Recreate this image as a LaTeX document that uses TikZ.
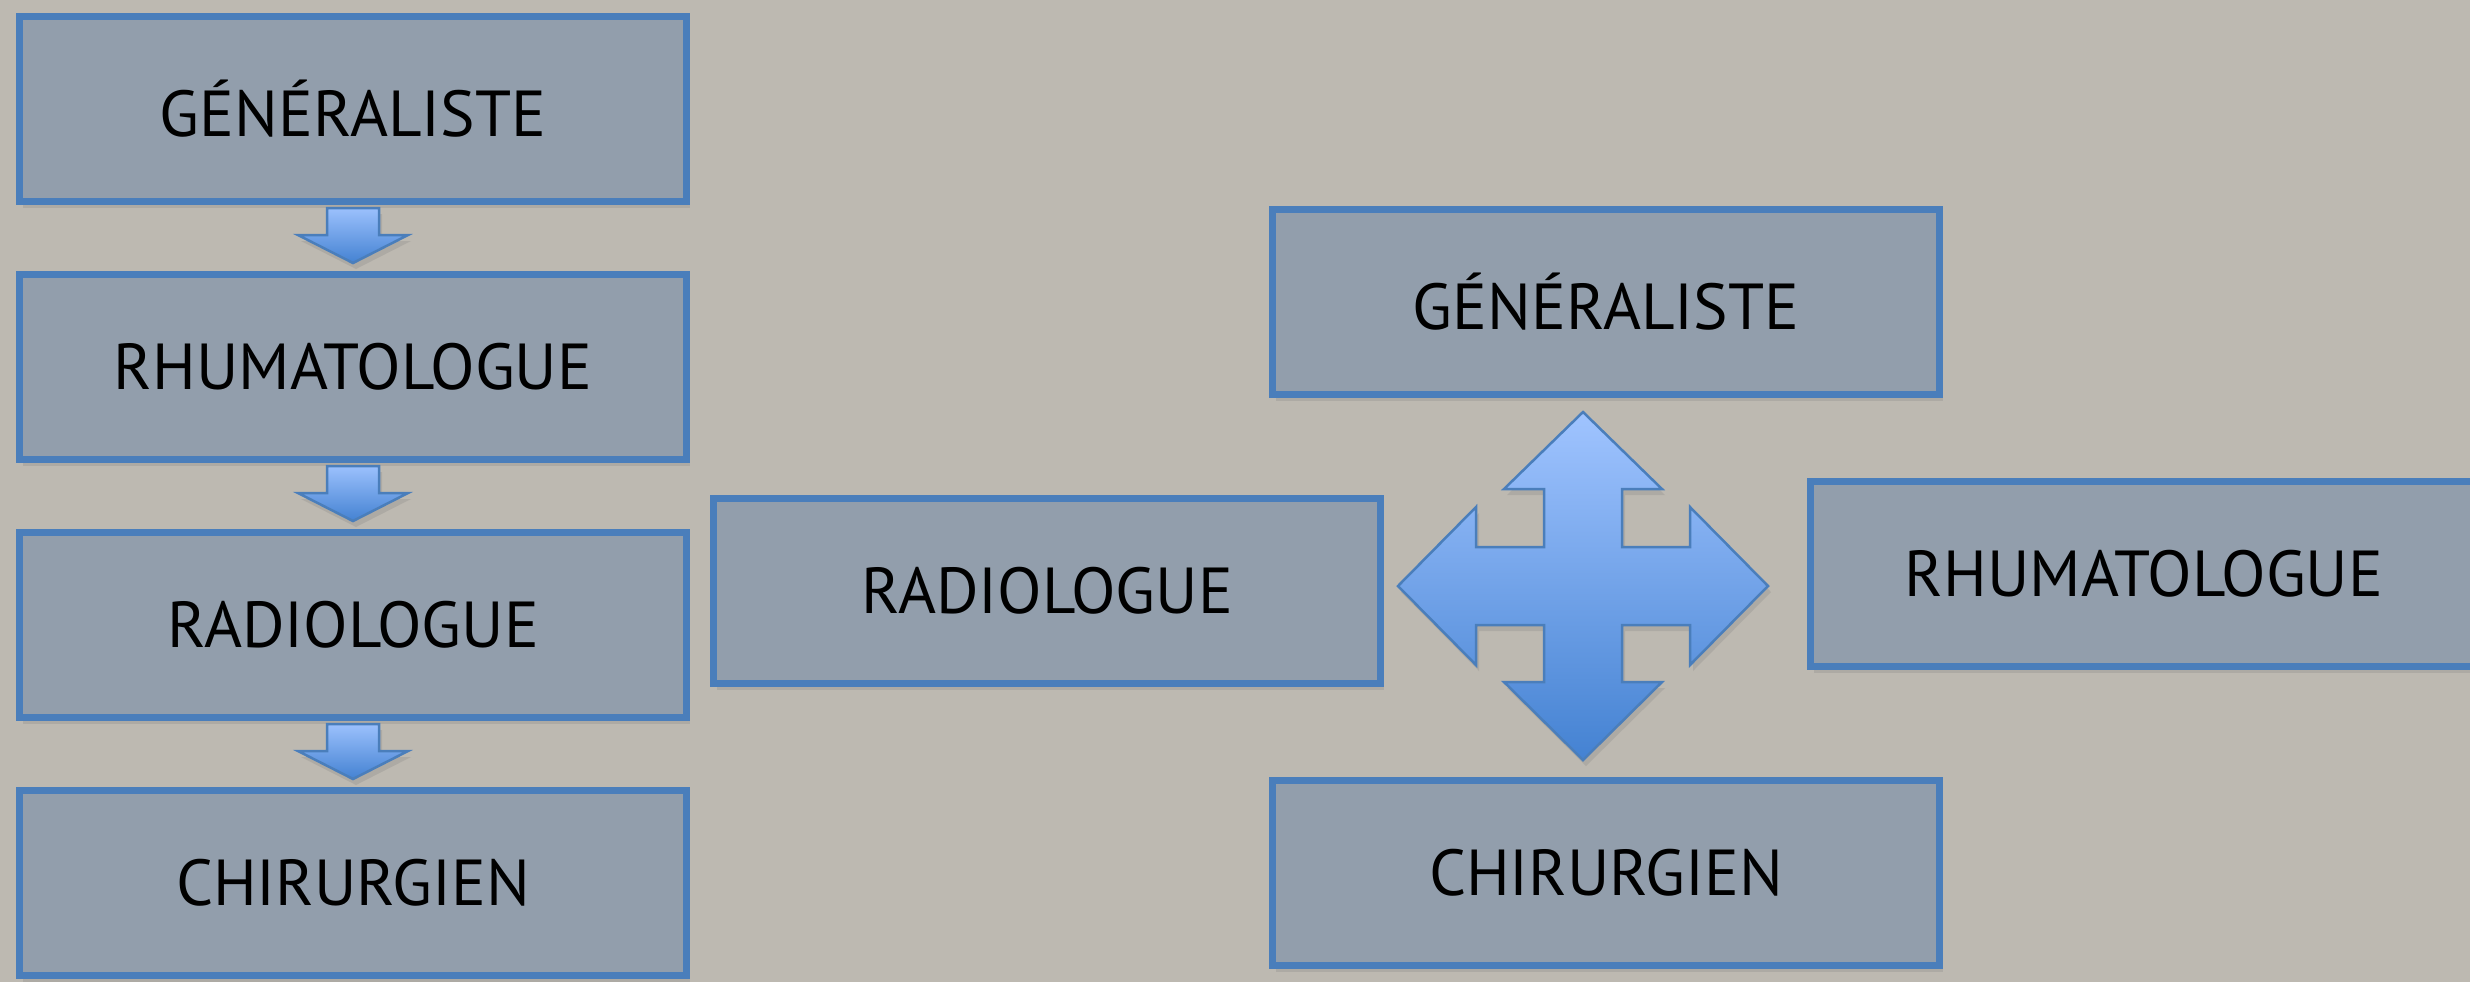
\documentclass[tikz,border=0pt]{standalone}
\usepackage{fontspec}
\setmainfont{PT Sans}
\usetikzlibrary{shadows,calc}

\definecolor{wall}{HTML}{BDB9B1}
\definecolor{boxfill}{HTML}{929EAC}
\definecolor{boxedge}{HTML}{4A7EBB}
\definecolor{arrowtop}{HTML}{A0C4FF}
\definecolor{arrowbot}{HTML}{4482D2}

\tikzset{
  doctor/.style={draw=boxedge, line width=0.7mm, fill=boxfill,
    minimum width=66.7mm, minimum height=18.5mm, inner sep=0pt,
    font=\fontsize{18.5}{20}\selectfont,
    drop shadow={shadow xshift=0.3mm, shadow yshift=-0.6mm, opacity=0.25}},
  blockarrow/.style={draw=boxedge, line width=0.25mm, line join=miter,
    top color=arrowtop, bottom color=arrowbot,
    drop shadow={shadow xshift=0.3mm, shadow yshift=-0.6mm, opacity=0.25}},
}

\begin{document}
\begin{tikzpicture}[x=0.1mm, y=-0.1mm]
\useasboundingbox (0,0) rectangle (2470,982);
\fill[wall] (0,0) rectangle (2470,982);

% filiere lineaire
\node[doctor] (gen1) at (353,109) {GÉNÉRALISTE};
\node[doctor] (rhu1) at (353,367) {RHUMATOLOGUE};
\node[doctor] (rad1) at (353,625) {RADIOLOGUE};
\node[doctor] (chi1) at (353,883) {CHIRURGIEN};

\foreach \a/\b in {gen1/rhu1, rhu1/rad1, rad1/chi1}
  \draw[blockarrow] (\a.south) ++(-26,3)
    -- ++(0,27) -- ++(-29,0) -- ($(\b.north)+(0,-8)$)
    -- ($(\a.south)+(55,30)$) -- ++(-29,0) -- ++(0,-27) -- cycle;

% reseau autour du patient
\node[doctor] (gen2) at (1606,302) {GÉNÉRALISTE};
\node[doctor] (rad2) at (1047,591) {RADIOLOGUE};
\node[doctor] (rhu2) at (2144,574) {RHUMATOLOGUE};
\node[doctor] (chi2) at (1606,873) {CHIRURGIEN};

\coordinate (hub) at (1583,586);
\draw[blockarrow]
     (hub) ++(0,-174)
  -- ++(79,77) -- ++(-40,0) -- ++(0,58) -- ++(68,0) -- ++(0,-40)
  -- ++(78,79) -- ++(-78,79) -- ++(0,-40) -- ++(-68,0) -- ++(0,57)
  -- ++(40,0) -- ++(-79,78) -- ++(-79,-78) -- ++(40,0) -- ++(0,-57)
  -- ++(-68,0) -- ++(0,40) -- ++(-78,-79) -- ++(78,-79) -- ++(0,40)
  -- ++(68,0) -- ++(0,-58) -- ++(-40,0) -- cycle;
\end{tikzpicture}
\end{document}
